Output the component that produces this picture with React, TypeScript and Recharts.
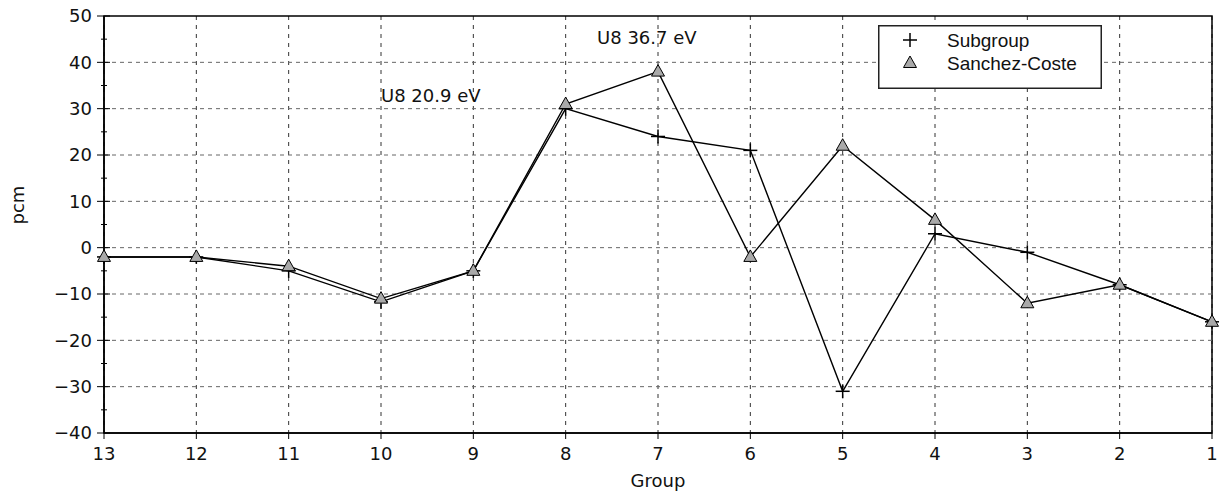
import React from "react";
import {
  LineChart,
  Line,
  XAxis,
  YAxis,
  CartesianGrid,
  ReferenceLine,
  ReferenceArea,
  ReferenceDot,
  Legend,
} from "recharts";

const groups = [13, 12, 11, 10, 9, 8, 7, 6, 5, 4, 3, 2, 1];
const subgroup = [-2, -2, -5, -11.7, -5, 30, 24, 21, -31, 3, -1, -8, -16];
const sanchezCoste = [-2, -2, -4, -11, -5, 31, 38, -2, 22, 6, -12, -8, -16];
const yTicks = [-40, -35, -30, -25, -20, -15, -10, -5, 0, 5, 10, 15, 20, 25, 30, 35, 40, 45, 50];
const yGridValues = [-30, -20, -10, 0, 10, 20, 30, 40];
const annotationX = [10, 7.66];
const annotationY = [31.5, 44];
const annotationText = ["U8 20.9 eV", "U8 36.7 eV"];

const data = groups.map((g, i) => ({ group: g, sub: subgroup[i], san: sanchezCoste[i] }));

const FONT = "DejaVu Sans";

const YTick = (props: any) => {
  const { x, y, payload } = props;
  const major = payload.value % 10 === 0;
  return (
    <g>
      {major ? (
        <line x1={x - 7} x2={x + 6} y1={y} y2={y} stroke="#000" strokeWidth={1} />
      ) : (
        <line x1={x - 3} x2={x + 3} y1={y} y2={y} stroke="#000" strokeWidth={1} />
      )}
      {major && (
        <text x={x - 12} y={y} dy="0.36em" textAnchor="end" fontFamily={FONT} fontSize={18} fill="#111">
          {String(payload.value).replace("-", "\u2212")}
        </text>
      )}
    </g>
  );
};

const XTick = (props: any) => {
  const { x, y, payload } = props;
  return (
    <g>
      <line x1={x} x2={x} y1={y} y2={y + 6} stroke="#000" strokeWidth={1} />
      <text x={x} y={y + 27} textAnchor="middle" fontFamily={FONT} fontSize={18} fill="#111">
        {payload.value}
      </text>
    </g>
  );
};

const CrossDot = (props: any) => {
  const { cx, cy, index } = props;
  if (cx == null || cy == null) return <g key={`c${index}`} />;
  return (
    <g key={`c${index}`}>
      <line x1={cx - 7} x2={cx + 7} y1={cy} y2={cy} stroke="#000" strokeWidth={1.5} />
      <line x1={cx} x2={cx} y1={cy - 7} y2={cy + 7} stroke="#000" strokeWidth={1.5} />
    </g>
  );
};

const TriDot = (props: any) => {
  const { cx, cy, index } = props;
  if (cx == null || cy == null) return <g key={`t${index}`} />;
  return (
    <path
      key={`t${index}`}
      d={`M${cx},${cy - 7} L${cx + 6.5},${cy + 4.5} L${cx - 6.5},${cy + 4.5} Z`}
      fill="#a9a9a9"
      stroke="#000"
      strokeWidth={1}
    />
  );
};

const LegendBox = () => (
  <svg width={224} height={64} style={{ display: "block" }}>
    <rect x={0.75} y={0.75} width={222.5} height={62.5} fill="#fff" stroke="#222" strokeWidth={1.5} />
    <line x1={25} x2={39} y1={15} y2={15} stroke="#000" strokeWidth={1.5} />
    <line x1={32} x2={32} y1={8} y2={22} stroke="#000" strokeWidth={1.5} />
    <path d="M32,31 L38.5,42.5 L25.5,42.5 Z" fill="#a9a9a9" stroke="#000" strokeWidth={1} />
    <text x={69} y={15} dy="0.35em" fontFamily="Liberation Sans" fontSize={19} fill="#111">
      Subgroup
    </text>
    <text x={69} y={38} dy="0.35em" fontFamily="Liberation Sans" fontSize={19} fill="#111">
      Sanchez-Coste
    </text>
  </svg>
);

export default function App() {
  return (
    <div style={{ position: "absolute", left: 0, top: 0, background: "#fff" }}>
      <LineChart width={1221} height={495} data={data} margin={{ top: 16, right: 9, bottom: 0, left: 0 }}>
        <CartesianGrid horizontal={false} stroke="#333" strokeDasharray="4 5" />
        {yGridValues.map((v) => (
          <ReferenceLine key={`g${v}`} y={v} stroke="#666" strokeDasharray="4 4" />
        ))}
        <XAxis
          dataKey="group"
          type="number"
          domain={[1, 13]}
          reversed
          ticks={groups}
          interval={0}
          tickSize={0}
          tickMargin={0}
          height={62}
          axisLine={{ stroke: "#000", strokeWidth: 1.5 }}
          tickLine={false}
          tick={<XTick />}
          label={{ value: "Group", position: "insideBottom", offset: 8, fontFamily: FONT, fontSize: 18, fill: "#111" }}
        />
        <YAxis
          type="number"
          domain={[-40, 50]}
          ticks={yTicks}
          interval={0}
          width={104}
          tickSize={0}
          tickMargin={0}
          axisLine={{ stroke: "#000", strokeWidth: 1.5 }}
          tickLine={false}
          tick={<YTick />}
          label={{ value: "pcm", angle: -90, position: "insideLeft", offset: 18, fontFamily: FONT, fontSize: 18, fill: "#111" }}
        />
        <ReferenceArea x1={13} x2={1} y1={-40} y2={50} fill="none" stroke="#000" strokeWidth={1.5} ifOverflow="visible" />
        <Line dataKey="sub" stroke="#000" strokeWidth={1.4} dot={CrossDot} activeDot={false} isAnimationActive={false} />
        <Line dataKey="san" stroke="#000" strokeWidth={1.4} dot={TriDot} activeDot={false} isAnimationActive={false} />
        {annotationText.map((t, i) => (
          <ReferenceDot
            key={`a${i}`}
            x={annotationX[i]}
            y={annotationY[i]}
            r={0}
            ifOverflow="visible"
            shape={(p: any) => (
              <text x={p.cx} y={p.cy} fontFamily={FONT} fontSize={18} fill="#111">
                {t}
              </text>
            )}
          />
        ))}
        <Legend
          layout="vertical"
          align="center"
          verticalAlign="middle"
          wrapperStyle={{ left: 878, top: 25, width: 224, height: 64 }}
          content={() => <LegendBox />}
        />
      </LineChart>
    </div>
  );
}
